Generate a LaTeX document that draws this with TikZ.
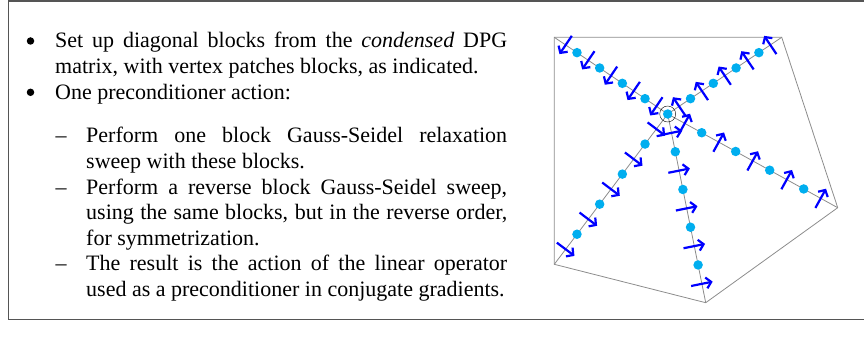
\documentclass[tikz,border=0pt]{standalone}
\usepackage{fontspec}
\setmainfont{Liberation Serif}
\usepackage{xcolor}
\definecolor{frameGrey}  {HTML}{555555}
\definecolor{meshGrey}   {HTML}{8C8C8C}
\definecolor{dofCyan}    {HTML}{00AEEF}
\definecolor{normalBlue} {HTML}{0000FF}
\usetikzlibrary{arrows.meta, positioning, calc}
\tikzset{
    slidetext/.style={inner sep=0pt, font=\fontsize{22}{25.7}\selectfont},
    itembody/.style={slidetext, anchor=north west, align=justify,
                     execute at begin node={\hyphenpenalty=10000\relax}},
    itemdash/.style={slidetext, anchor=base},
    itemdot/.style={circle, fill, minimum size=7.5pt, inner sep=0pt},
    framerule/.style={frameGrey, line width=1.2pt},
    meshedge/.style={meshGrey, line width=0.8pt},
    dofdot/.style={circle, fill=dofCyan, minimum size=9.5pt, inner sep=0pt},
    patchring/.style={circle, draw, thin, minimum size=16pt, inner sep=0pt},
    normalarrow/.style={-{Straight Barb[length=5pt, width=11pt]},
                        normalBlue, line width=2.2pt},
}

\begin{document}
\begin{tikzpicture}[x=1pt, y=-1pt]
\useasboundingbox (0,0) rectangle (864,337);

% --- frame ---
\draw[framerule] (864,1) -- (8.5,1) -- (8.5,319.5) -- (864,319.5);

% --- LEFT: items ---
\node[itemdot] (b-one) at (30.5,41) {};
\node[itembody, text width=452pt] (t-one) at (55,29.7)
    {\strut Set up diagonal blocks from the \textit{condensed} DPG
     matrix, with vertex patches blocks, as indicated.};
\node[itemdot] (b-two) at (30.5,92.3) {};
\node[itembody, text width=452pt] (t-two) at (55,81)
    {\strut One preconditioner action:};

\node[itemdash] (d-one) at (61,142.7) {--};
\node[itembody, text width=421pt] (s-one) at (86,124.7)
    {\strut Perform one block Gauss-Seidel relaxation\linebreak
     sweep with these blocks.};
\node[itemdash] (d-two) at (61,194) {--};
\node[itembody, text width=421pt] (s-two) at (86,176)
    {\strut Perform a reverse block Gauss-Seidel sweep,\linebreak
     using the same blocks, but in the reverse order,\linebreak
     for symmetrization.};
\node[itemdash] (d-three) at (61,270.7) {--};
\node[itembody, text width=421pt] (s-three) at (86,252.7)
    {\strut The result is the action of the linear operator\linebreak
     used as a preconditioner in conjugate gradients.};

% --- RIGHT: vertex patch ---
\coordinate (ctr) at (667.7,114);
\coordinate (vtl) at (554.3,37.3);
\coordinate (vtr) at (781.7,37.3);
\coordinate (vr)  at (837.7,207.7);
\coordinate (vb)  at (705.7,302.7);
\coordinate (vbl) at (554.3,264.3);
\draw[meshedge] (vtl) -- (vtr) -- (vr) -- (vb) -- (vbl) -- cycle;

\foreach \v in {vtl, vtr, vr, vb, vbl} {
    \draw[meshedge] (ctr) -- (\v);
    % dofs on the spoke
    \foreach \k in {1,...,4}
        \node[dofdot] (dof-\v-\k) at ($(ctr)!\k/5!(\v)$) {};
    % face normals, one per segment
    \foreach \k in {1,...,5} {
        \coordinate (mid-\v-\k) at ($(ctr)!{(\k-0.5)/5}!(\v)$);
        \draw[normalarrow] ($(mid-\v-\k)!11pt!-90:(\v)$)
                        -- ($(mid-\v-\k)!11pt!90:(\v)$);
    }
}
\node[dofdot] (dof-ctr) at (ctr) {};
\node[patchring] (ring) at (ctr) {};
\end{tikzpicture}
\end{document}
